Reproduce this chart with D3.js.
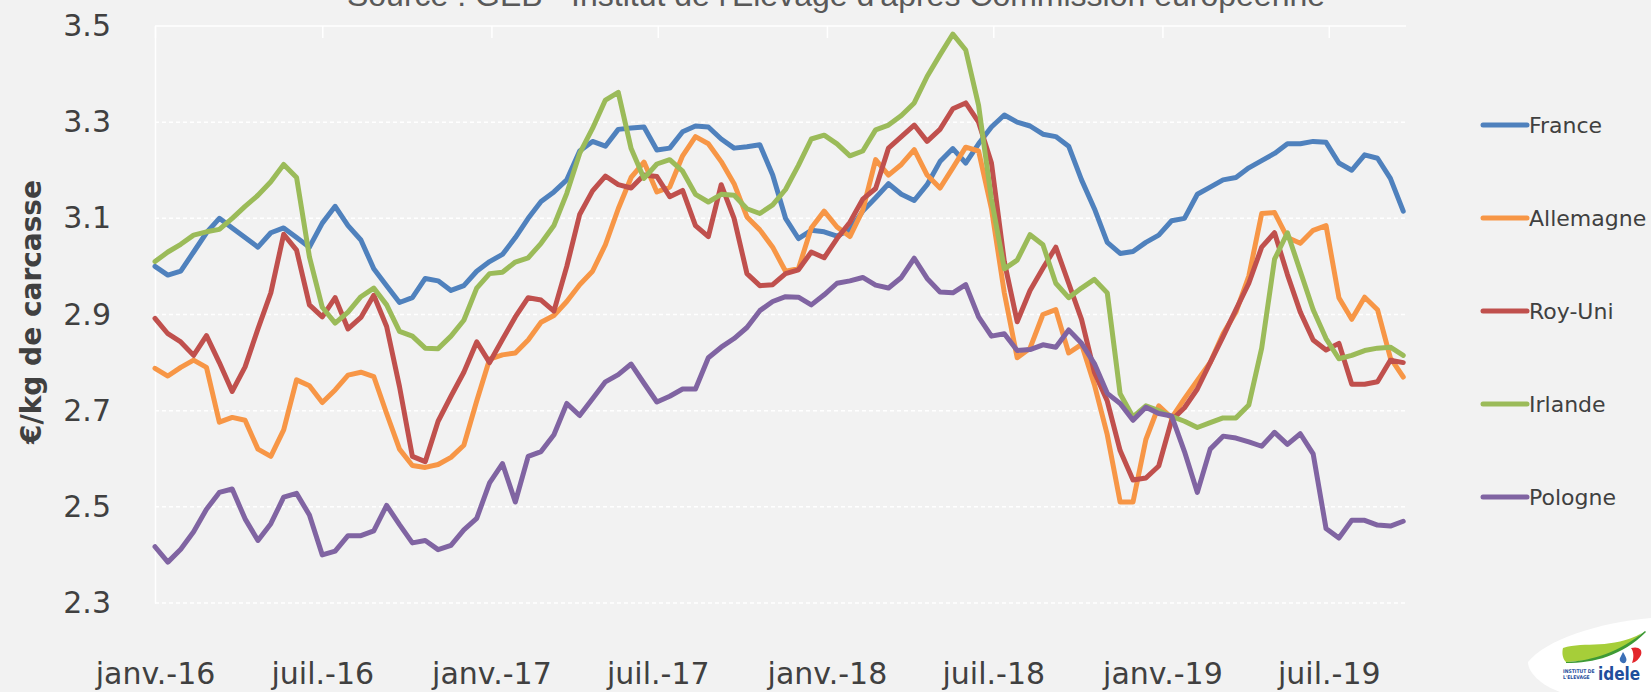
<!DOCTYPE html>
<html>
<head>
<meta charset="utf-8">
<script src="https://cdn.jsdelivr.net/npm/d3@7"></script>
<style>
  body { margin: 0; background: #f2f2f2; }
  svg { display: block; }
</style>
</head>
<body>
<script>
// prix relevés toutes les deux semaines, à partir de janvier 2016 (€/kg de carcasse)
var startDate = new Date(2016, 0, 1);
var stepDays = 14;

var france = [
  3.00, 2.982, 2.99, 3.03, 3.07, 3.10, 3.08, 3.06, 3.04, 3.07,
  3.08, 3.06, 3.04, 3.09, 3.125, 3.085, 3.055, 2.995, 2.96, 2.925,
  2.935, 2.975, 2.97, 2.95, 2.96, 2.99, 3.01, 3.025, 3.06, 3.10,
  3.135, 3.155, 3.18, 3.24, 3.26, 3.25, 3.285, 3.288, 3.29, 3.242,
  3.246, 3.28, 3.292, 3.29, 3.265, 3.246, 3.249, 3.253, 3.19, 3.10,
  3.058, 3.075, 3.072, 3.063, 3.076, 3.115, 3.143, 3.172, 3.15, 3.137,
  3.17, 3.218, 3.245, 3.215, 3.255, 3.29, 3.315, 3.30, 3.292, 3.275,
  3.27, 3.25, 3.18, 3.12, 3.05, 3.027, 3.031, 3.05, 3.065, 3.095,
  3.10, 3.15, 3.165, 3.18, 3.185, 3.205, 3.22, 3.235, 3.255, 3.255,
  3.26, 3.258, 3.215, 3.20, 3.232, 3.225, 3.183, 3.115
];
var allemagne = [
  2.788, 2.772, 2.79, 2.805, 2.79, 2.676, 2.686, 2.68, 2.62, 2.605,
  2.66, 2.764, 2.752, 2.717, 2.743, 2.774, 2.78, 2.771, 2.694, 2.62,
  2.586, 2.582, 2.588, 2.603, 2.628, 2.72, 2.807, 2.816, 2.82, 2.847,
  2.884, 2.898, 2.927, 2.962, 2.99, 3.045, 3.12, 3.185, 3.217, 3.155,
  3.165, 3.23, 3.27, 3.255, 3.218, 3.172, 3.103, 3.076, 3.04, 2.99,
  2.995, 3.08, 3.115, 3.082, 3.062, 3.117, 3.222, 3.19, 3.212, 3.243,
  3.19, 3.163, 3.205, 3.248, 3.24, 3.12, 2.945, 2.81, 2.83, 2.90,
  2.91, 2.82, 2.838, 2.754, 2.65, 2.51, 2.51, 2.64, 2.71, 2.685,
  2.725, 2.763, 2.80, 2.86, 2.905, 2.98, 3.11, 3.112, 3.06, 3.048,
  3.075, 3.085, 2.935, 2.89, 2.936, 2.91, 2.81, 2.77
];
var royUni = [
  2.892, 2.86, 2.843, 2.815, 2.856, 2.80, 2.74, 2.791, 2.87, 2.945,
  3.067, 3.034, 2.92, 2.895, 2.935, 2.87, 2.894, 2.94, 2.875, 2.75,
  2.605, 2.594, 2.678, 2.73, 2.78, 2.843, 2.80, 2.848, 2.895, 2.935,
  2.93, 2.907, 3.00, 3.108, 3.157, 3.188, 3.17, 3.163, 3.19, 3.187,
  3.145, 3.158, 3.085, 3.062, 3.17, 3.10, 2.985, 2.96, 2.962, 2.985,
  2.993, 3.03, 3.018, 3.058, 3.092, 3.14, 3.162, 3.246, 3.27, 3.294,
  3.26, 3.285, 3.328, 3.34, 3.30, 3.215, 3.01, 2.885, 2.95, 2.996,
  3.04, 2.965, 2.89, 2.78, 2.72, 2.617, 2.556, 2.56, 2.585, 2.68,
  2.706, 2.745, 2.80, 2.854, 2.91, 2.965, 3.04, 3.07, 2.983, 2.905,
  2.847, 2.826, 2.84, 2.755, 2.755, 2.76, 2.805, 2.80
];
var irlande = [
  3.01, 3.03, 3.046, 3.065, 3.072, 3.077, 3.10, 3.125, 3.148, 3.176,
  3.212, 3.185, 3.02, 2.915, 2.882, 2.905, 2.937, 2.955, 2.92, 2.865,
  2.855, 2.83, 2.829, 2.855, 2.888, 2.955, 2.985, 2.988, 3.009, 3.018,
  3.048, 3.085, 3.152, 3.235, 3.287, 3.346, 3.362, 3.245, 3.183, 3.213,
  3.222, 3.198, 3.15, 3.134, 3.15, 3.148, 3.12, 3.11, 3.128, 3.16,
  3.21, 3.265, 3.273, 3.255, 3.23, 3.24, 3.284, 3.294, 3.314, 3.34,
  3.395, 3.44, 3.483, 3.45, 3.335, 3.14, 2.995, 3.013, 3.066, 3.045,
  2.965, 2.935, 2.955, 2.973, 2.945, 2.735, 2.687, 2.71, 2.70, 2.688,
  2.678, 2.665, 2.675, 2.685, 2.685, 2.712, 2.83, 3.015, 3.07, 2.99,
  2.91, 2.85, 2.808, 2.815, 2.825, 2.83, 2.832, 2.815
];
var pologne = [
  2.417, 2.385, 2.412, 2.448, 2.495, 2.53, 2.537, 2.475, 2.43, 2.465,
  2.52, 2.528, 2.483, 2.40, 2.408, 2.44, 2.44, 2.45, 2.503, 2.463,
  2.425, 2.43, 2.411, 2.42, 2.452, 2.476, 2.55, 2.59, 2.51, 2.605,
  2.615, 2.65, 2.715, 2.69, 2.725, 2.76, 2.775, 2.797, 2.757, 2.718,
  2.73, 2.745, 2.745, 2.81, 2.832, 2.85, 2.873, 2.908, 2.927, 2.937,
  2.936, 2.92, 2.941, 2.965, 2.97, 2.977, 2.961, 2.955, 2.977, 3.017,
  2.975, 2.947, 2.945, 2.962, 2.895, 2.855, 2.86, 2.825, 2.827, 2.837,
  2.832, 2.868, 2.84, 2.798, 2.736, 2.715, 2.68, 2.707, 2.694, 2.689,
  2.615, 2.53, 2.62, 2.647, 2.643, 2.635, 2.626, 2.655, 2.63, 2.652,
  2.61, 2.455, 2.435, 2.472, 2.472, 2.462, 2.46, 2.47
];

var seriesNames = ["France", "Allemagne", "Roy-Uni", "Irlande", "Pologne"];
var seriesColors = ["#4f81bd", "#f79646", "#c0504d", "#9bbb59", "#8064a2"];
var seriesValues = [france, allemagne, royUni, irlande, pologne];

var yTicks = [2.3, 2.5, 2.7, 2.9, 3.1, 3.3, 3.5];
var xTickDates = ["2016-01-01", "2016-07-01", "2017-01-01", "2017-07-01",
                  "2018-01-01", "2018-07-01", "2019-01-01", "2019-07-01"];
var xTickLabels = ["janv.-16", "juil.-16", "janv.-17", "juil.-17",
                   "janv.-18", "juil.-18", "janv.-19", "juil.-19"];

var titleText = "Source : GEB - Institut de l'Elevage d'après Commission européenne";
var yTitle = "€/kg de carcasse";

// dimensions
var W = 1651, H = 692;
var margin = {top: 26, right: 245, bottom: 89, left: 155};
var plotW = W - margin.left - margin.right,
    plotH = H - margin.top - margin.bottom;

var parseDay = d3.timeParse("%Y-%m-%d");
var tickDates = xTickDates.map(parseDay);

var x = d3.scaleTime()
    .domain([parseDay("2016-01-01"), parseDay("2019-09-23")])
    .range([0, plotW]);
var y = d3.scaleLinear().domain([2.3, 3.5]).range([plotH, 0]);

var svg = d3.select("body").append("svg")
    .attr("width", W)
    .attr("height", H)
    .style("background", "#f2f2f2");

// title (cut at the top of the picture)
svg.append("text")
    .attr("x", 836)
    .attr("y", 6)
    .attr("text-anchor", "middle")
    .style("font-family", "'Liberation Sans', Arial, sans-serif")
    .style("font-size", "32px")
    .style("fill", "#595959")
    .text(titleText);

var g = svg.append("g")
    .attr("transform", "translate(" + margin.left + "," + margin.top + ")");

// horizontal gridlines
g.append("g")
    .selectAll("line")
    .data(yTicks)
    .enter().append("line")
    .attr("x1", 0)
    .attr("x2", plotW)
    .attr("y1", function(d) { return y(d); })
    .attr("y2", function(d) { return y(d); })
    .style("stroke", "#ffffff")
    .style("stroke-width", 1.5)
    .style("stroke-dasharray", function(d) { return d === 3.5 ? null : "4,3"; });

// y axis
var yAxis = g.append("g")
    .call(d3.axisLeft(y).tickValues(yTicks).tickFormat(d3.format(".1f"))
      .tickSize(0).tickPadding(44));
yAxis.select(".domain").style("stroke", "#ffffff").style("stroke-width", 1.5);
yAxis.selectAll("text")
    .style("font-family", "'DejaVu Sans', sans-serif")
    .style("font-size", "30px")
    .style("fill", "#404040");

// x axis: tick marks at the top, labels at the bottom
var xTop = g.append("g")
    .call(d3.axisTop(x).tickValues(tickDates).tickFormat("").tickSize(-12).tickSizeOuter(0));
xTop.select(".domain").remove();
xTop.selectAll("line").style("stroke", "#ffffff").style("stroke-width", 1.5);

var xAxis = g.append("g")
    .attr("transform", "translate(0," + plotH + ")")
    .call(d3.axisBottom(x).tickValues(tickDates)
      .tickFormat(function(d, i) { return xTickLabels[i]; })
      .tickSize(0).tickPadding(60));
xAxis.select(".domain").remove();
xAxis.selectAll("text")
    .style("font-family", "'DejaVu Sans', sans-serif")
    .style("font-size", "30px")
    .style("fill", "#404040");

// y axis title
svg.append("text")
    .attr("transform", "translate(31,312) rotate(-90)")
    .attr("text-anchor", "middle")
    .attr("dominant-baseline", "central")
    .style("font-family", "'DejaVu Sans', sans-serif")
    .style("font-weight", "bold")
    .style("font-size", "28px")
    .style("fill", "#404040")
    .text(yTitle);

// lines
var line = d3.line()
    .x(function(d, i) { return x(d3.timeDay.offset(startDate, stepDays * i)); })
    .y(function(d) { return y(d); });

seriesValues.forEach(function(vals, k) {
  g.append("path")
      .datum(vals)
      .attr("d", line)
      .style("fill", "none")
      .style("stroke", seriesColors[k])
      .style("stroke-width", 5)
      .style("stroke-linejoin", "round")
      .style("stroke-linecap", "round");
});

// legend
var legend = svg.append("g").attr("transform", "translate(1483,125)");
var item = legend.selectAll("g")
    .data(seriesNames)
    .enter().append("g")
    .attr("transform", function(d, i) { return "translate(0," + (i * 93) + ")"; });
item.append("line")
    .attr("x1", 0).attr("x2", 44)
    .style("stroke", function(d, i) { return seriesColors[i]; })
    .style("stroke-width", 5)
    .style("stroke-linecap", "round");
item.append("text")
    .attr("x", 46)
    .attr("dominant-baseline", "central")
    .style("font-family", "'DejaVu Sans', sans-serif")
    .style("font-size", "22px")
    .style("fill", "#404040")
    .text(function(d) { return d; });

// idele logo (bottom right)
var logo = svg.append("g");
logo.append("path")
    .attr("d", "M1528,662 C1545,640 1600,622 1651,618 L1651,692 L1560,692 C1540,685 1528,672 1528,662 Z")
    .style("fill", "#ffffff");
logo.append("path")
    .attr("d", "M1563,648 C1585,641 1612,650 1642,633 C1620,655 1592,661 1566,662 C1562,658 1562,652 1563,648 Z")
    .style("fill", "#a6ce39");
logo.append("path")
    .attr("d", "M1566,662 C1592,661 1620,652 1645,631 L1646,632 C1622,656 1594,663 1566,663 Z")
    .style("fill", "#3e9a35");
logo.append("path")
    .attr("d", "M1631,648 C1638,646 1643,649 1641,655 C1639,659 1636,662 1632,663 C1634,658 1634,652 1631,648 Z")
    .style("fill", "#e3262c");
logo.append("path")
    .attr("d", "M1623,652 C1626,657 1628,660 1625,663 C1621,664 1619,660 1620,658 Z")
    .style("fill", "#3b6fb6");
logo.append("text")
    .attr("x", 1563).attr("y", 673)
    .style("font-family", "'DejaVu Sans Condensed', 'DejaVu Sans', sans-serif")
    .style("font-weight", "bold")
    .style("font-size", "5px")
    .style("fill", "#1f4e9c")
    .text("INSTITUT DE");
logo.append("text")
    .attr("x", 1563).attr("y", 679)
    .style("font-family", "'DejaVu Sans Condensed', 'DejaVu Sans', sans-serif")
    .style("font-weight", "bold")
    .style("font-size", "5px")
    .style("fill", "#1f4e9c")
    .text("L'ELEVAGE");
logo.append("text")
    .attr("x", 1598).attr("y", 680)
    .style("font-family", "'DejaVu Sans Condensed', 'DejaVu Sans', sans-serif")
    .style("font-weight", "bold")
    .style("font-size", "17px")
    .style("fill", "#1f4e9c")
    .text("idele");
</script>
</body>
</html>
